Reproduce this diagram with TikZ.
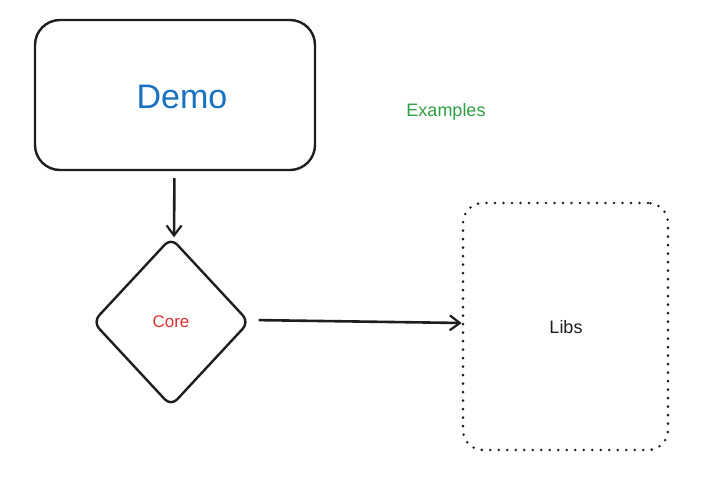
\documentclass[tikz,border=0pt]{standalone}
\usepackage{fontspec}
\setmainfont{Liberation Sans}
\usetikzlibrary{shapes.geometric,arrows.meta}
\definecolor{ink}{HTML}{1E1E1E}
\definecolor{exblue}{HTML}{1971C2}
\definecolor{exgreen}{HTML}{2F9E44}
\definecolor{exred}{HTML}{E03131}
\tikzset{
  sketchbox/.style={draw=ink, line width=2.4pt, rounded corners=25pt, inner sep=0pt},
  decision/.style={diamond, draw=ink, line width=2.4pt, rounded corners=9pt, inner sep=0pt, aspect=0.926},
  dotbox/.style={draw=ink, line width=2.8pt, rounded corners=20pt, inner sep=0pt, dash pattern=on 0pt off 8.5pt, line cap=round},
  conn/.style={draw=ink, line width=2.6pt, -{Straight Barb[length=10pt,width=15pt,line width=2.2pt]}},
}
\begin{document}
\begin{tikzpicture}[x=1pt,y=-1pt]
\useasboundingbox[fill=white] (0,0) rectangle (716,490);
\node[sketchbox, minimum width=280pt, minimum height=150pt] (demo) at (175,95) {};
\node[text=exblue, font=\fontsize{34}{36}\selectfont] (demotxt) at (182,97) {Demo};
\node[text=exgreen, font=\fontsize{18}{20}\selectfont] (examples) at (446,112) {Examples};
\node[decision, minimum width=157pt, minimum height=169pt] (core) at (171,322) {};
\node[text=exred, font=\fontsize{17}{19}\selectfont] (coretxt) at (171,322) {Core};
\node[dotbox, minimum width=205pt, minimum height=247pt] (libs) at (565.5,326.5) {};
\node[text=ink, font=\fontsize{18}{20}\selectfont] (libstxt) at (566,327) {Libs};
\draw[conn, shorten <=7pt] ([xshift=3.5pt]demo.south -| core.north) -- ([xshift=3pt,yshift=-1pt]core.north);
\draw[conn, shorten <=8pt] ([yshift=2pt]core.east) -- ([yshift=3.5pt]libs.west);
\end{tikzpicture}
\end{document}
